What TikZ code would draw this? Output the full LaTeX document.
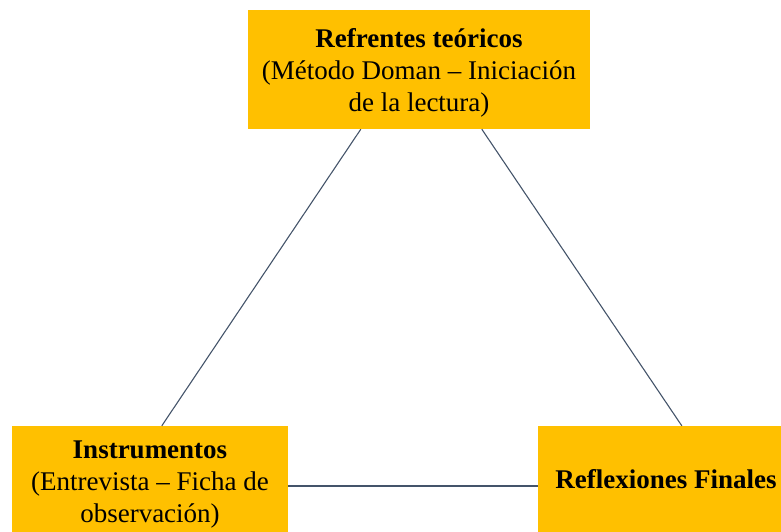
\documentclass[tikz,border=0pt]{standalone}
\usepackage{fontspec}
\setmainfont{Liberation Serif}
\definecolor{boxfill}{HTML}{FFC000}
\definecolor{linkcol}{HTML}{44546A}
\begin{document}
\begin{tikzpicture}[x=1pt,y=-1pt,
  box/.style={fill=boxfill,draw=none,inner sep=0pt,align=center,
    font=\fontsize{27}{32}\selectfont},
  link/.style={draw=linkcol,line width=1.1pt}]
\useasboundingbox (0,0) rectangle (781,531);
\clip (0,0) rectangle (781,531);
\node[box,minimum width=342pt,minimum height=119pt] (top) at (419,69.5)
  {\rule{0pt}{25pt}\textbf{Refrentes teóricos}\\(Método Doman – Iniciación\\de la lectura)};
\node[box,minimum width=276pt,minimum height=117pt] (left) at (150,484.5)
  {\textbf{Instrumentos}\\(Entrevista – Ficha de\\observación)};
\node[box,minimum width=256pt,minimum height=106pt] (right) at (666,479)
  {\textbf{Reflexiones Finales}};
\coordinate (h) at (0,486);
\draw[link] ([xshift=113pt]top.south west) -- ([xshift=150pt]left.north west);
\draw[link] ([xshift=234pt]top.south west) -- ([xshift=144pt]right.north west);
\draw[link] (left.east |- h) -- (right.west |- h);
\end{tikzpicture}
\end{document}
